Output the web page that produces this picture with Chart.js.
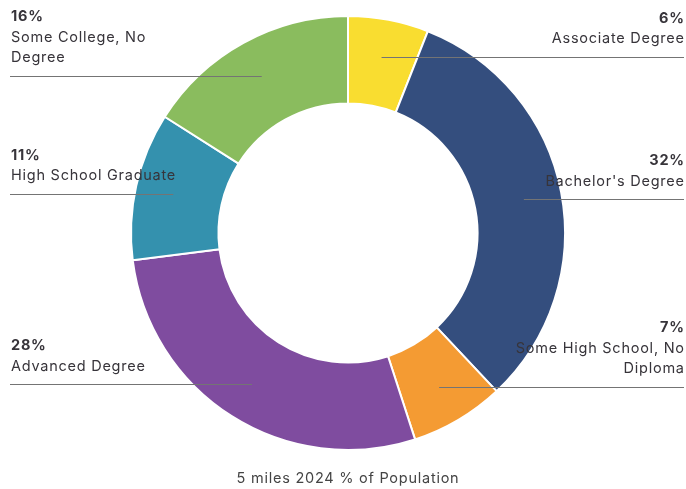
<!DOCTYPE html>
<html>
<head>
<meta charset="utf-8">
<script src="https://cdn.jsdelivr.net/npm/chart.js@4.4.1/dist/chart.umd.min.js"></script>
<style>
  html, body { margin: 0; padding: 0; background: #ffffff; }
  #wrap { width: 686px; height: 489px; position: relative; }
</style>
</head>
<body>
<div id="wrap"><canvas id="c" width="686" height="489"></canvas></div>
<script>
const categories = ['Associate Degree', "Bachelor's Degree", 'Some High School, No Diploma', 'Advanced Degree', 'High School Graduate', 'Some College, No Degree'];
const labelLines = [['Associate Degree'], ["Bachelor's Degree"], ['Some High School, No', 'Diploma'], ['Advanced Degree'], ['High School Graduate'], ['Some College, No', 'Degree']];
const values = [6, 32, 7, 28, 11, 16];
const colors = ['#F9DD30', '#344E7E', '#F49B33', '#7F4C9F', '#3491AE', '#8ABC5E'];
const chartTitle = '5 miles 2024 % of Population';

const FONT = 'Inter, "Noto Sans", "DejaVu Sans", sans-serif';

const calloutPlugin = {
  id: 'callouts',
  afterDatasetsDraw(chart) {
    const ctx = chart.ctx;
    const meta = chart.getDatasetMeta(0);
    const W = chart.width;
    const leftX = 10, rightX = W - 2;
    ctx.save();
    if ('letterSpacing' in ctx) ctx.letterSpacing = '0.75px';
    meta.data.forEach((arc, i) => {
      const props = arc.getProps(['x', 'y', 'startAngle', 'endAngle', 'innerRadius', 'outerRadius']);
      const mid = (props.startAngle + props.endAngle) / 2;
      const rr = props.innerRadius + 0.566 * (props.outerRadius - props.innerRadius);
      const px = props.x + Math.cos(mid) * rr;
      const py = props.y + Math.sin(mid) * rr;
      const isRight = px >= props.x;
      const y = Math.round(py) + 0.5;
      ctx.strokeStyle = '#747474';
      ctx.lineWidth = 1;
      ctx.beginPath();
      if (isRight) { ctx.moveTo(px, y); ctx.lineTo(rightX, y); }
      else { ctx.moveTo(leftX, y); ctx.lineTo(px, y); }
      ctx.stroke();
      const lines = labelLines[i];
      const rows = [{t: values[i] + '%', bold: true}].concat(lines.map(t => ({t, bold: false})));
      const n = rows.length;
      ctx.textAlign = isRight ? 'right' : 'left';
      ctx.textBaseline = 'middle';
      ctx.fillStyle = '#37343a';
      rows.forEach((r, k) => {
        const ty = py - 18 - (n - 1 - k) * 20.5;
        ctx.font = (r.bold ? '700 ' : '400 ') + '14.5px ' + FONT;
        ctx.fillText(r.t, isRight ? rightX + 0.75 : leftX + 1, ty);
      });
    });
    ctx.font = '400 14.5px ' + FONT;
    ctx.textAlign = 'center';
    ctx.textBaseline = 'middle';
    ctx.fillStyle = '#444444';
    ctx.fillText(chartTitle, 348, 479);
    ctx.restore();
  }
};

new Chart(document.getElementById('c'), {
  type: 'doughnut',
  data: {
    labels: categories,
    datasets: [{
      data: values,
      backgroundColor: colors,
      borderColor: '#ffffff',
      borderWidth: 2,
      hoverOffset: 0
    }]
  },
  options: {
    responsive: false,
    animation: false,
    cutout: '59.7%',
    layout: { padding: { top: 15, bottom: 38, left: 10, right: 0 } },
    plugins: {
      legend: { display: false },
      tooltip: { enabled: false },
      title: { display: false }
    }
  },
  plugins: [calloutPlugin]
});
</script>
</body>
</html>
